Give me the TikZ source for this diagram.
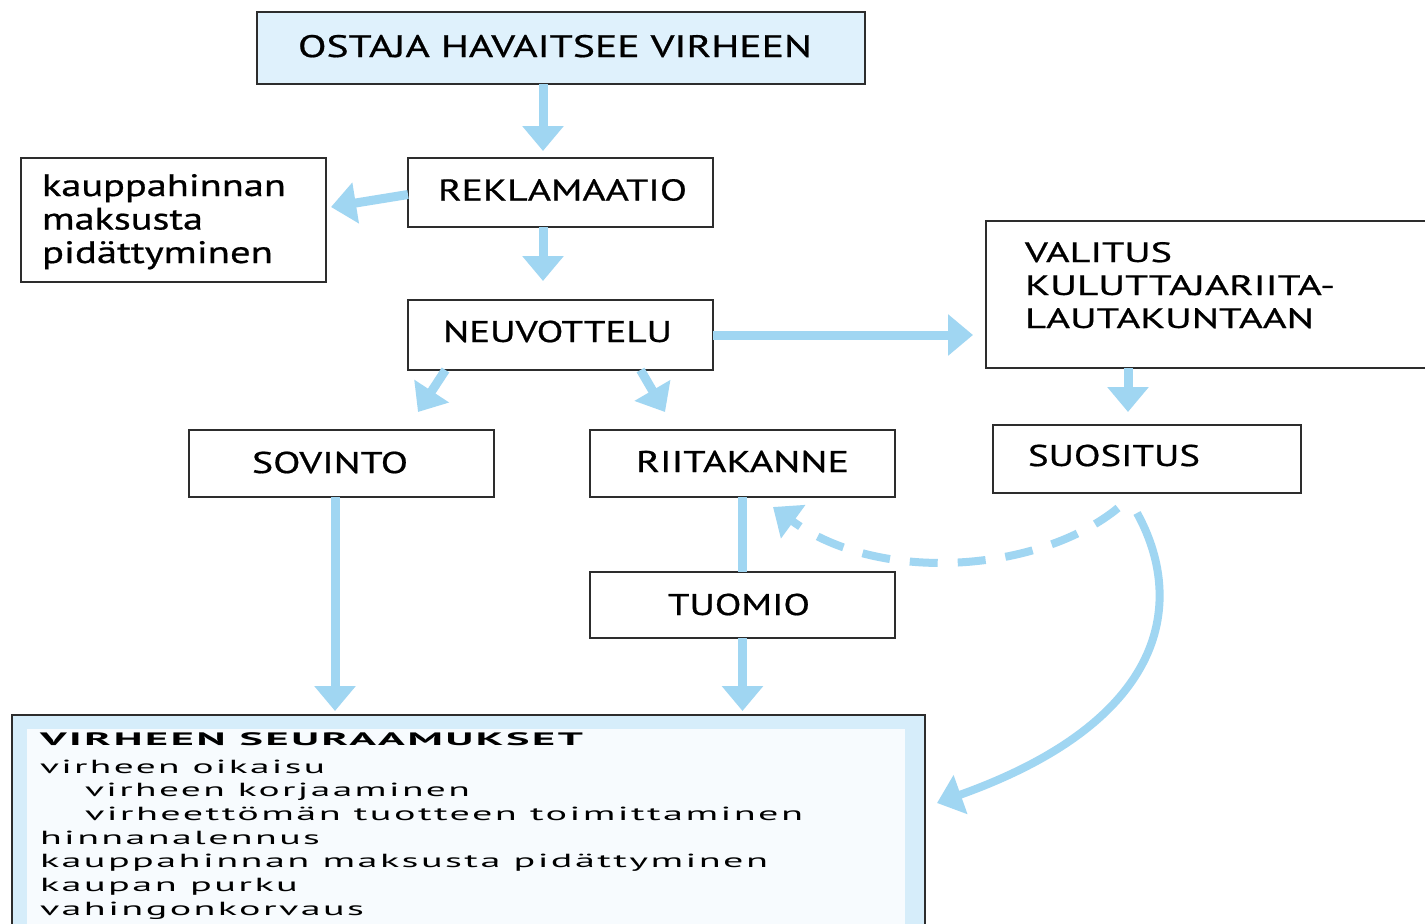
\documentclass[tikz,border=0pt]{standalone}
\usepackage{fontspec}
\usepackage{graphicx}
\setmainfont{PT Sans}
\newfontfamily\boxfont{PT Sans}[FakeBold=0.6]
\newfontfamily\listfont{PT Sans}[LetterSpace=6]
\usetikzlibrary{arrows.meta,calc}
\definecolor{arrowblue}{RGB}{160,214,242}
\definecolor{topfill}{RGB}{223,241,252}
\definecolor{resband}{RGB}{214,237,250}
\definecolor{resinner}{RGB}{247,251,254}
\definecolor{boxline}{RGB}{45,45,45}
\newcommand\fitw[2]{\resizebox{#1pt}{\height}{#2}}
% text block: first baseline at (dx,dy) from node centre (dy positive = up)
\newcommand\tb[3]{\makebox[0pt][l]{\hspace*{#1}\raisebox{#2}[0pt][0pt]{\begin{tabular}[t]{@{}l@{}}#3\end{tabular}}}}
\begin{document}
\begin{tikzpicture}[x=1pt,y=-1pt,
  box/.style={draw=boxline,line width=1.4pt,fill=white,inner sep=0pt,outer sep=0pt},
  capsbox/.style={box,minimum width=305pt,font=\boxfont\fontsize{30}{33}\selectfont},
  arr/.style={draw=arrowblue,line width=9pt,-{Triangle[width=40pt,length=25pt]}},
  conn/.style={draw=arrowblue,line width=9pt},
  dasharr/.style={arr,line width=8pt,dash pattern=on 28pt off 20pt}]
\useasboundingbox (0,0) rectangle (1425,924);
\fill[white] (0,0) rectangle (1425,924);

\node[box,fill=topfill,minimum width=608pt,minimum height=72pt,
      font=\boxfont\fontsize{31}{33}\selectfont] (top) at (561,48)
  {\tb{-263pt}{-9pt}{\fitw{514}{OSTAJA HAVAITSEE VIRHEEN}}};

\node[capsbox,minimum height=69pt] (rek) at (560.5,192.5)
  {\tb{-122.5pt}{-8pt}{\fitw{249}{REKLAMAATIO}}};

\node[box,minimum width=305pt,minimum height=124pt,
      font=\boxfont\fontsize{31}{33.5}\selectfont] (kau) at (173.5,220)
  {\tb{-131.5pt}{24pt}{\fitw{244}{kauppahinnan}\\\fitw{161}{maksusta}\\\fitw{231}{pidättyminen}}};

\node[capsbox,minimum height=70pt] (neu) at (560.5,335)
  {\tb{-117.5pt}{-7pt}{\fitw{229}{NEUVOTTELU}}};

\node[box,minimum width=444pt,minimum height=147pt,
      font=\boxfont\fontsize{28}{33}\selectfont] (val) at (1208,294.5)
  {\tb{-183pt}{32.5pt}{\fitw{147}{VALITUS}\\\fitw{310}{KULUTTAJARIITA-}\\\fitw{289}{LAUTAKUNTAAN}}};

\node[capsbox,minimum height=67pt] (sov) at (341.5,463.5)
  {\tb{-89.5pt}{-9.5pt}{\fitw{156}{SOVINTO}}};

\node[capsbox,minimum height=67pt] (rii) at (742.5,463.5)
  {\tb{-106.5pt}{-8.5pt}{\fitw{213}{RIITAKANNE}}};

\node[capsbox,minimum width=308pt,minimum height=68pt] (sug) at (1147,459)
  {\tb{-119pt}{-7pt}{\fitw{172}{SUOSITUS}}};

\node[capsbox,minimum height=66pt] (tuo) at (742.5,605)
  {\tb{-74.5pt}{-10pt}{\fitw{142}{TUOMIO}}};

\node[draw=boxline,line width=1.4pt,fill=resband,inner sep=0pt,outer sep=0pt,
      minimum width=913pt,minimum height=225pt,
      path picture={\fill[resinner] ([shift={(15pt,-14pt)}]path picture bounding box.north west)
        rectangle ([shift={(-20pt,0pt)}]path picture bounding box.south east);},
      font=\listfont\fontsize{19}{23.7}\selectfont] (res) at (468.5,827.5)
  {\tb{-428.5pt}{82.5pt}{%
    {\bfseries\fontsize{18}{23.7}\selectfont\fitw{543}{VIRHEEN SEURAAMUKSET}}\\[4.3pt]
    \fitw{285}{virheen oikaisu}\\
    \hspace*{45pt}\fitw{385}{virheen korjaaminen}\\
    \hspace*{45pt}\fitw{718}{virheettömän tuotteen toimittaminen}\\
    \fitw{280}{hinnanalennus}\\
    \fitw{728}{kauppahinnan maksusta pidättyminen}\\
    \fitw{258}{kaupan purku}\\
    \fitw{324}{vahingonkorvaus}}};

\coordinate (sovend) at (335,711);
\coordinate (tuoend) at (742.5,711);

\draw[arr] ([xshift=-18pt]top.south) -- ([xshift=-17.5pt,yshift=7pt]rek.north);
\draw[arr] ([yshift=-2pt]rek.west) -- ([shift={(5pt,13pt)}]kau.east);
\draw[arr] ([xshift=-17.5pt]rek.south) -- ([xshift=-17.5pt,yshift=19pt]neu.north);
\draw[arr] (neu.east) -- ([shift={(-13pt,-40.5pt)}]val.west);
\draw[arr] ([xshift=-115pt]neu.south) -- ([shift={(76.5pt,18pt)}]sov.north);
\draw[arr] ([xshift=80pt]neu.south) -- ([shift={(-77.5pt,18pt)}]rii.north);
\draw[arr] ([xshift=-80pt]val.south) -- ([shift={(-19pt,13pt)}]sug.north);
\draw[conn] (rii.south) -- (tuo.north);
\draw[arr] (tuo.south) -- (tuoend);
\draw[arr] (sov.south -| sovend) -- (sovend);
\draw[dasharr] ([shift={(-29pt,-15pt)}]sug.south) .. controls (1040,572) and (880,585) .. ([shift={(-122pt,-10pt)}]rii.south east);
\draw[arr,line width=8pt] ([shift={(-10pt,-20pt)}]sug.south) .. controls (1185,600) and (1170,720) .. ([shift={(12pt,24.5pt)}]res.east);
\end{tikzpicture}
\end{document}
